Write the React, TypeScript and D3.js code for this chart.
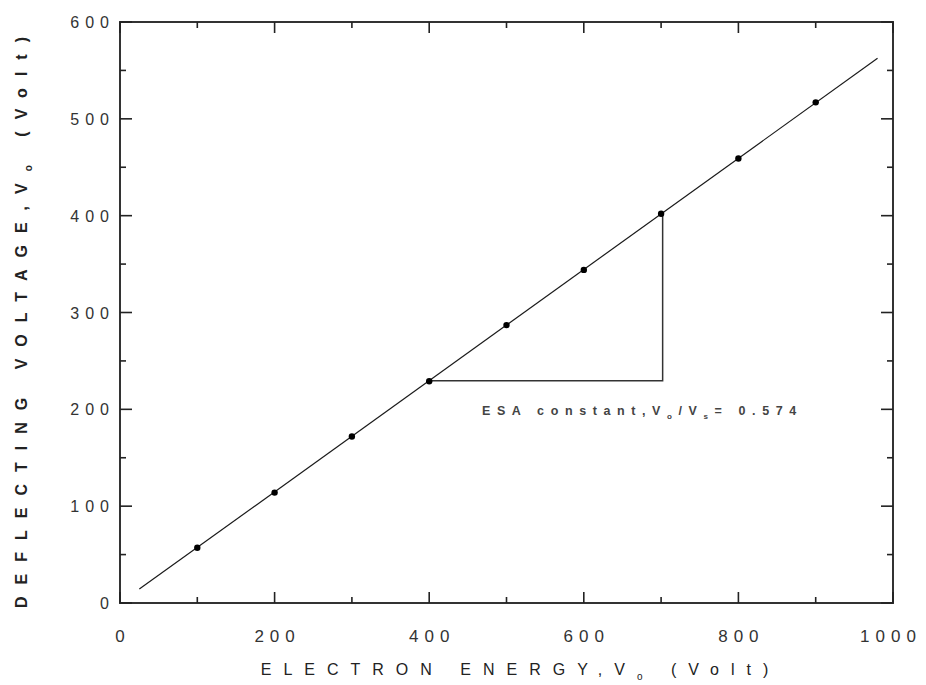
import React from "react";
import * as d3 from "d3";

const xTicks = [0, 200, 400, 600, 800, 1000];
const yTicks = [0, 100, 200, 300, 400, 500, 600];
const energy = [100, 200, 300, 400, 500, 600, 700, 800, 900];
const deflecting = [57, 114, 172, 229, 287, 344, 402, 459, 517];
const fitX = [25, 980];
const slope = 0.574;
const triangleX = [400, 702];

const W = 926, H = 685;
const left = 120, right = 893, top = 22, bottom = 603;

export default function App() {
  const x = d3.scaleLinear().domain([0, 1000]).range([left, right]);
  const y = d3.scaleLinear().domain([0, 600]).range([bottom, top]);
  const line = d3.line<[number, number]>().x(d => x(d[0])).y(d => y(d[1]));
  const fit: [number, number][] = fitX.map(v => [v, slope * v]);
  const tri: [number, number][] = [
    [triangleX[0], slope * triangleX[0]],
    [triangleX[1], slope * triangleX[0]],
    [triangleX[1], slope * triangleX[1]],
  ];
  const xMinor = d3.range(0, 1001, 100);
  const yMinor = d3.range(0, 601, 50);
  const font = "'Liberation Sans', Arial, sans-serif";
  const ink = "#1a1a1a";
  return (
    <svg width={W} height={H} style={{ position: "absolute", left: 0, top: 0, background: "#fff" }} fontFamily={font}>
      <rect x={left} y={top} width={right - left} height={bottom - top} fill="none" stroke="#333" strokeWidth={2} />
      {xMinor.map(v => {
        const major = v % 200 === 0;
        const len = major ? 11 : 6;
        return (
          <g key={"x" + v} stroke="#222" strokeWidth={1.6}>
            <line x1={x(v)} x2={x(v)} y1={bottom} y2={bottom - len} />
            <line x1={x(v)} x2={x(v)} y1={top} y2={top + len} />
          </g>
        );
      })}
      {yMinor.map(v => {
        const major = v % 100 === 0;
        const len = major ? 12 : 6;
        return (
          <g key={"y" + v} stroke="#222" strokeWidth={1.6}>
            <line x1={left} x2={left + len} y1={y(v)} y2={y(v)} />
            <line x1={right} x2={right - len} y1={y(v)} y2={y(v)} />
          </g>
        );
      })}
      {xTicks.map(v => (
        <text key={"xl" + v} x={v === 1000 ? x(v) - 2 : x(v) + 3} y={bottom + 39} textAnchor="middle" fontSize={17} letterSpacing={6} fill="#333">
          {v}
        </text>
      ))}
      {yTicks.map(v => (
        <text key={"yl" + v} x={left - 5} y={y(v) + 6} textAnchor="end" fontSize={16} letterSpacing={6} fill="#333">
          {v}
        </text>
      ))}
      <path d={line(fit) || ""} fill="none" stroke={ink} strokeWidth={1.2} />
      <path d={line(tri) || ""} fill="none" stroke="#333" strokeWidth={1.5} />
      {energy.map((v, i) => (
        <circle key={"p" + i} cx={x(v)} cy={y(deflecting[i])} r={3.2} fill="#000" />
      ))}
      <text x={482} y={415} fontSize={12.5} fontWeight="bold" letterSpacing={6.6} fill="#444">
        ESA constant,V<tspan fontSize={8} dy={4}>o</tspan><tspan dy={-4}>/V</tspan><tspan fontSize={8} dy={4}>s</tspan><tspan dy={-4}>= 0.574</tspan>
      </text>
      <text x={(left + right) / 2 + 14} y={675} textAnchor="middle" fontSize={16} letterSpacing={12} fill="#222">
        ELECTRON ENERGY,V<tspan fontSize={10} dy={5}>o</tspan><tspan dy={-5}> (Volt)</tspan>
      </text>
      <text transform={`translate(27,${(top + bottom) / 2 + 4}) rotate(-90)`} textAnchor="middle" fontSize={16} fontWeight="bold" letterSpacing={12} fill="#222">
        DEFLECTING VOLTAGE,V<tspan fontSize={10} dy={5}>o</tspan><tspan dy={-5}> (Volt)</tspan>
      </text>
    </svg>
  );
}
